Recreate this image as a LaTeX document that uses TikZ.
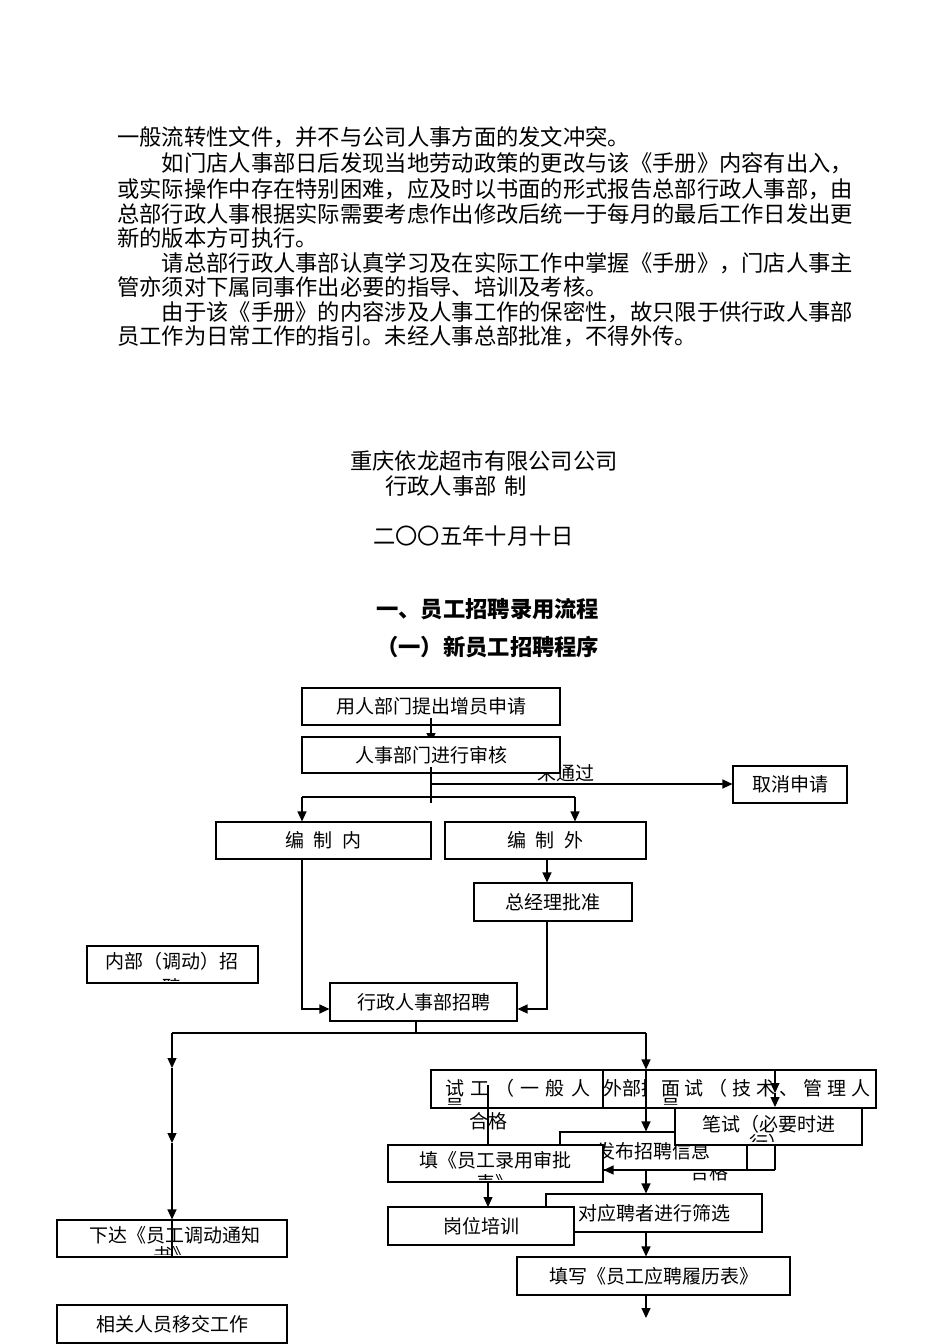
\documentclass[tikz,border=0pt]{standalone}
\usepackage{fontspec}
\newfontfamily\cjk{Noto Sans CJK SC}
\usetikzlibrary{arrows.meta,calc}
\newcommand\parafont{\cjk\fontsize{22.3pt}{25pt}\selectfont}
\newcommand\boxfont{\cjk\fontsize{19pt}{23pt}\selectfont}
\newcommand\lsA{\hspace{6.2pt}}
\newcommand\lsB{\hspace{4.75pt}}
\newcommand\lsC{\hspace{10pt}}
\tikzset{
  box/.style={draw=black, line width=1.1pt, fill=white, inner sep=0pt, font=\boxfont},
  ln/.style={line width=1.2pt},
  arr/.style={line width=1.2pt, -{Triangle[width=9pt,length=10pt]}},
  para/.style={anchor=west, inner sep=0pt, font=\parafont},
  lbl/.style={inner sep=0pt, font=\boxfont},
}
\newcommand\mkbox[6]{\node[box,minimum width={#4-#2},minimum height={#5-#3}] (#1) at ({(#2+#4)/2},{(#3+#5)/2}) {#6};}
\begin{document}
\begin{tikzpicture}[x=1pt,y=-1pt]
\path[fill=white] (0,0) rectangle (950,1344);
\useasboundingbox (0,0) rectangle (950,1344);

% ---- paragraphs
\node[para] (p1) at (117,137) {一般流转性文件，并不与公司人事方面的发文冲突。};
\node[para] (p2) at (161.6,163) {如门店人事部日后发现当地劳动政策的更改与该《手册》内容有出入，};
\node[para] (p3) at (117,189) {或实际操作中存在特别困难，应及时以书面的形式报告总部行政人事部，由};
\node[para] (p4) at (117,214) {总部行政人事根据实际需要考虑作出修改后统一于每月的最后工作日发出更};
\node[para] (p5) at (117,238) {新的版本方可执行。};
\node[para] (p6) at (161.6,263) {请总部行政人事部认真学习及在实际工作中掌握《手册》，门店人事主};
\node[para] (p7) at (117,287) {管亦须对下属同事作出必要的指导、培训及考核。};
\node[para] (p8) at (161.6,312) {由于该《手册》的内容涉及人事工作的保密性，故只限于供行政人事部};
\node[para] (p9) at (117,336) {员工作为日常工作的指引。未经人事总部批准，不得外传。};

% ---- title block
\node[para] (t1) at (350,461) {重庆依龙超市有限公司公司};
\node[para] (t2) at (385,486) {行政人事部\hspace{8pt}制};
\node[para] (t3) at (373,536) {二〇〇五年十月十日};
\node[para,font=\parafont\bfseries] (t4) at (376,609) {一、员工招聘录用流程};
\node[para,font=\parafont\bfseries] (t5) at (376,647) {（一）新员工招聘程序};

% ---- flowchart top
\mkbox{b1}{302}{688}{560}{725}{用人部门提出增员申请}
\coordinate (c1a) at (431,718);
\coordinate (c1b) at (431,743);
\draw[arr] (c1a) -- (c1b);
\node[lbl] (n1) at (566,773) {未通过};
\mkbox{b2}{302}{737}{560}{773}{人事部门进行审核}
\mkbox{bc}{733}{766}{847}{803}{取消申请}
\coordinate (c2a) at (431,767);
\coordinate (c2b) at (431,803);
\coordinate (c2r) at (431,784);
\draw[ln] (c2a) -- (c2b);
\draw[arr] (c2r) -- (bc.west |- c2r);
\coordinate (brl) at (302,797);
\coordinate (brr) at (575,797);
\draw[ln] (brl) -- (brr);
\mkbox{bn}{216}{822}{431}{859}{编\lsC 制\lsC 内}
\mkbox{bw}{445}{822}{646}{859}{编\lsC 制\lsC 外}
\draw[arr] (brl) -- (brl |- bn.north);
\draw[arr] (brr) -- (brr |- bw.north);
\mkbox{bz}{474}{883}{632}{921}{总经理批准}
\coordinate (wz) at (547,859);
\draw[arr] (wz) -- (wz |- bz.north);
\mkbox{bx}{330}{983}{517}{1021}{行政人事部招聘}
\coordinate (zx) at (547,921);
\coordinate (zx2) at (547,1009);
\draw[arr] (zx) -- (zx2) -- (bx.east |- zx2);
\coordinate (nx) at (302,859);
\coordinate (nx2) at (302,1009);
\draw[arr] (nx) -- (nx2) -- (bx.west |- nx2);

% internal transfer box (text clipped)
\mkbox{bi}{87}{946}{258}{983}{}
\begin{scope}
  \clip (bi.north west) rectangle ([yshift=3pt]bi.south east);
  \node[lbl] (bi1) at (172,961.5) {内部（调动）招};
  \node[lbl] (bi2) at (172,987) {聘};
\end{scope}

% ---- split below recruitment
\coordinate (xs) at (416,1033);
\draw[ln] (bx.south -| xs) -- (xs);
\coordinate (sl) at (172,1033);
\coordinate (sr) at (646,1033);
\draw[ln] (sl) -- (sr);

% ---- row of boxes
\mkbox{bw1}{560}{1070}{750}{1108}{}
\begin{scope}
  \clip (603,1071) rectangle (646.5,1107);
  \node[lbl,anchor=west] (bw1t) at (603,1088) {外部招};
\end{scope}
\mkbox{bs}{431}{1070}{603}{1108}{}
\begin{scope}
  \clip (bs.north west) rectangle ([yshift=4pt]bs.south east);
  \node[lbl,anchor=west] (bs1) at (445,1088) {试\lsA 工\lsA （\lsA 一\lsA 般\lsA 人};
  \node[lbl,anchor=west] (bs2) at (445,1106.5) {员、};
\end{scope}
\mkbox{bm}{646}{1070}{876}{1108}{}
\begin{scope}
  \clip (bm.north west) rectangle ([yshift=4pt]bm.south east);
  \node[lbl,anchor=west] (bm1) at (661,1088) {面\lsB 试\lsB （\lsB 技\lsB 术\lsB 、\lsB 管\lsB 理\lsB 人};
  \node[lbl,anchor=west] (bm2) at (661,1106.5) {员、};
\end{scope}

\coordinate (s1) at (488,1085);
\coordinate (s2) at (488,1145);
\draw[ln] (s1) -- (s2);
\node[lbl] (hg1) at (488.5,1121.5) {合格};

\coordinate (m1) at (775,1070);
\coordinate (m2) at (775,1093);
\coordinate (m3) at (775,1107);
\coordinate (m4) at (775,1170);
\draw[arr] (m1) -- (m2);
\draw[arr] (m2) -- (m3);
\draw[ln] (m3) -- (m4);
\node[lbl] (hg2) at (709,1172) {合格};

\mkbox{bf}{560}{1132}{747}{1170}{发布招聘信息}
\mkbox{bb}{675}{1108}{862}{1145}{}
\begin{scope}
  \clip (bb.north west) rectangle ([yshift=4pt]bb.south east);
  \node[lbl] (bb1) at (768.5,1124.5) {笔试（必要时进};
  \node[lbl] (bb2) at (768.5,1143) {行）};
\end{scope}
\mkbox{bt}{388}{1145}{603}{1182}{}
\begin{scope}
  \clip (bt.north west) rectangle ([yshift=3.5pt]bt.south east);
  \node[lbl] (bt1) at (495.5,1160) {填《员工录用审批};
  \node[lbl] (bt2) at (495.5,1183.5) {表》};
\end{scope}
\draw[arr] (m4) -- (bt.east |- m4);

\draw[arr] (sr) -- (sr |- bm.north);
\draw[arr] (sr |- bm.north) -- (sr |- bf.north);

\mkbox{bd}{546}{1194}{762}{1232}{对应聘者进行筛选}
\draw[arr] (bf.south -| sr) -- (bd.north -| sr);
\coordinate (g0) at (488,1182);
\coordinate (g1) at (488,1207);
\draw[arr] (g0) -- (g1);
\mkbox{bg}{388}{1207}{574}{1245}{岗位培训}
\mkbox{bl}{517}{1257}{790}{1295}{填写《员工应聘履历表》}
\draw[arr] (bd.south -| sr) -- (bl.north -| sr);
\coordinate (endp) at (646,1318);
\draw[arr] (bl.south -| sr) -- (endp);

% ---- left column
\mkbox{bxd}{57}{1220}{287}{1257}{}
\begin{scope}
  \clip (bxd.north west) rectangle ([yshift=3.5pt]bxd.south east);
  \node[lbl] (bxd1) at (175,1235) {下达《员工调动通知};
  \node[lbl] (bxd2) at (172,1255.5) {书》};
\end{scope}
\coordinate (l1) at (172,1068);
\coordinate (l2) at (172,1143);
\draw[arr] (sl) -- (l1);
\draw[arr] (l1) -- (l2);
\draw[arr] (l2) -- (bxd.north -| sl);
\draw[ln] (bxd.north -| sl) -- (bxd.south -| sl);
\mkbox{bj}{57}{1305}{287}{1343}{相关人员移交工作}
\end{tikzpicture}
\end{document}
